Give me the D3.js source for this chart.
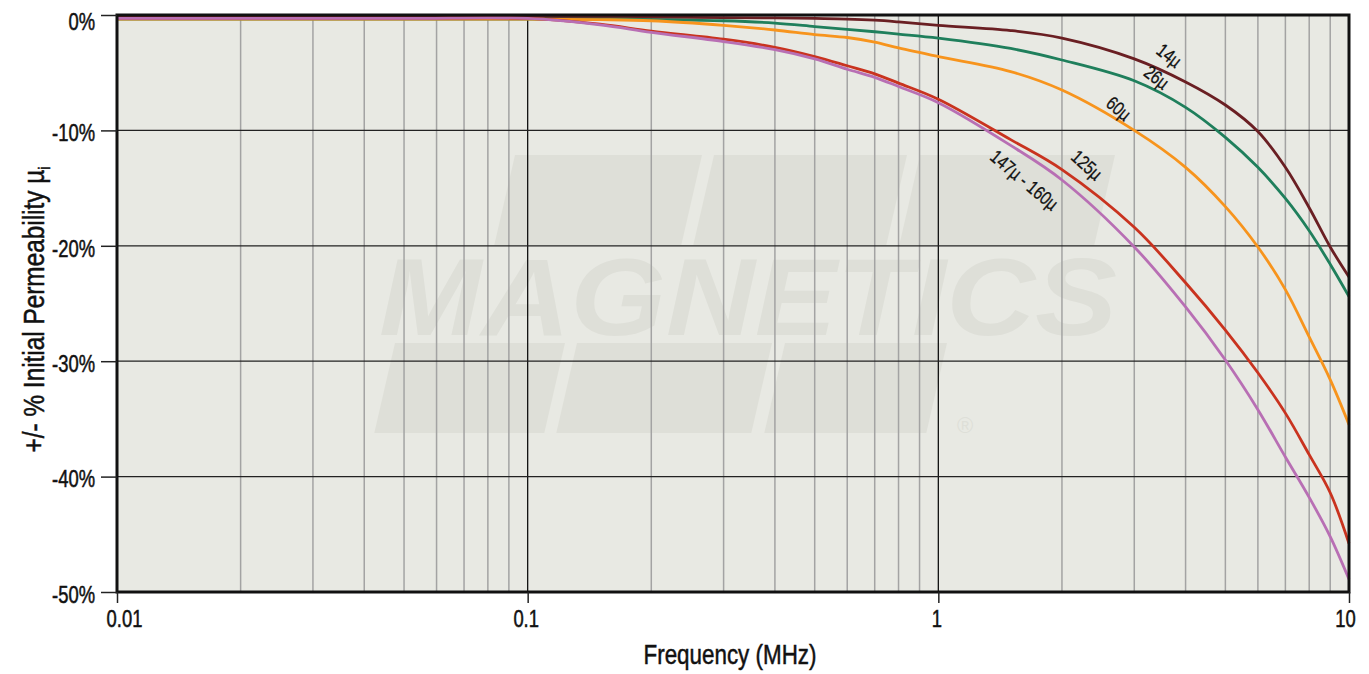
<!DOCTYPE html>
<html>
<head>
<meta charset="utf-8">
<script src="https://cdn.jsdelivr.net/npm/d3@7"></script>
<style>
  html, body { margin: 0; padding: 0; background: #fff; overflow: hidden; }
  svg { display: block; }
  text { font-family: "Liberation Sans", Arial, sans-serif; }
</style>
</head>
<body>
<svg id="chart"></svg>
<script>
// frequencies in MHz
const freqs = [0.01, 0.02, 0.05, 0.1, 0.15, 0.2, 0.3, 0.4, 0.5, 0.6, 0.7, 0.8, 1, 1.5, 2, 3, 4, 5, 6, 7, 8, 9, 10];

// % change of initial permeability, one list per grade
const mu14  = [-0.2, -0.2, -0.2, -0.2, -0.2, -0.2, -0.22, -0.25, -0.3, -0.35, -0.45, -0.6, -0.9, -1.35, -2.0, -3.8, -5.8, -7.8, -10.1, -13.2, -16.7, -20.1, -22.7];
const mu26  = [-0.35, -0.35, -0.35, -0.35, -0.35, -0.4, -0.5, -0.7, -1.0, -1.25, -1.45, -1.65, -2.0, -2.9, -3.9, -5.7, -8.0, -10.6, -13.2, -15.9, -18.7, -21.6, -24.4];
const mu60  = [-0.35, -0.35, -0.35, -0.35, -0.4, -0.5, -0.9, -1.3, -1.7, -1.95, -2.35, -2.85, -3.6, -4.9, -6.5, -10.0, -13.2, -16.6, -20.1, -23.8, -27.9, -31.6, -35.5];
const mu125 = [-0.3, -0.3, -0.3, -0.3, -0.8, -1.4, -2.1, -2.8, -3.6, -4.4, -5.1, -5.9, -7.3, -10.8, -13.4, -18.4, -23.2, -27.3, -31.0, -34.5, -38.1, -41.4, -45.8];
const mu147 = [-0.3, -0.3, -0.3, -0.3, -0.85, -1.5, -2.3, -3.0, -3.8, -4.7, -5.4, -6.2, -7.6, -11.3, -14.3, -20.1, -25.3, -29.9, -34.2, -38.3, -41.8, -45.2, -48.9];

const seriesNames  = ['14µ', '26µ', '60µ', '125µ', '147µ - 160µ'];
const seriesColors = ['#6a1f23', '#1f7f5c', '#f7941d', '#c9331f', '#b86fb4'];
const seriesValues = [mu14, mu26, mu60, mu125, mu147];

const xTicks = [0.01, 0.1, 1, 10];
const xTickLabels = ['0.01', '0.1', '1', '10'];
const yTicks = [0, -10, -20, -30, -40, -50];

const width = 1369, height = 674;
const margin = {top: 15, right: 20, bottom: 82, left: 117};
const innerWidth = width - margin.left - margin.right;
const innerHeight = height - margin.top - margin.bottom;
const squeeze = 0.8; // narrow the glyphs like the original condensed face

const svg = d3.select('#chart').attr('width', width).attr('height', height);
const g = svg.append('g').attr('transform', `translate(${margin.left},${margin.top})`);

const x = d3.scaleLog().domain([0.01, 10]).range([0, innerWidth]);
const y = d3.scaleLinear().domain([-50, 0]).range([innerHeight, 0]);

// squeeze text horizontally via textLength, keeps x/y where they are
function condense(sel) {
  sel.each(function() {
    const w = this.getComputedTextLength();
    d3.select(this).attr('textLength', w * squeeze).attr('lengthAdjust', 'spacingAndGlyphs');
  });
}

// plot background
g.append('rect').attr('width', innerWidth).attr('height', innerHeight).attr('fill', '#e8e9e3');

// faint watermark logo
const wm = g.append('g').attr('fill', '#dedfd8');
const band = (x0, x1, yTop, yBot) => {
  const s = (yBot - yTop) * 0.23;
  return `M${x0},${yTop}L${x1},${yTop}L${x1 - s},${yBot}L${x0 - s},${yBot}Z`;
};
[[398, 585], [597, 790], [803, 998]].forEach(([a, b]) => wm.append('path').attr('d', band(a, b, 140, 230)));
[[278, 448], [460, 655], [668, 830]].forEach(([a, b]) => wm.append('path').attr('d', band(a, b, 328, 418)));
wm.append('text').attr('x', 262).attr('y', 320).attr('font-size', 110).attr('font-weight', 'bold')
  .attr('font-style', 'italic').attr('textLength', 738).attr('lengthAdjust', 'spacingAndGlyphs')
  .text('MAGNETICS');
wm.append('text').attr('x', 848).attr('y', 418).attr('font-size', 22).attr('text-anchor', 'middle').text('®');

// minor vertical grid
const minor = [];
[0.01, 0.1, 1].forEach(d => { for (let k = 2; k <= 9; k++) minor.push(d * k); });
g.selectAll('.minor').data(minor).enter().append('line')
  .attr('x1', d => x(d)).attr('x2', d => x(d)).attr('y1', 0).attr('y2', innerHeight)
  .attr('stroke', '#a3a3a3').attr('stroke-width', 1.5);

// major grid
g.selectAll('.vmajor').data(xTicks).enter().append('line')
  .attr('x1', d => x(d)).attr('x2', d => x(d)).attr('y1', 0).attr('y2', innerHeight)
  .attr('stroke', '#111').attr('stroke-width', 1.3);
g.selectAll('.hmajor').data(yTicks).enter().append('line')
  .attr('x1', 0).attr('x2', innerWidth).attr('y1', d => y(d)).attr('y2', d => y(d))
  .attr('stroke', '#222').attr('stroke-width', 1.3);

// curves
const line = d3.line().x(d => x(d[0])).y(d => y(d[1])).curve(d3.curveCatmullRom.alpha(0.5));
seriesValues.forEach((vals, i) => {
  g.append('path').datum(freqs.map((f, j) => [f, vals[j]]))
    .attr('d', line).attr('fill', 'none')
    .attr('stroke', seriesColors[i]).attr('stroke-width', 2.8);
});

// frame
g.append('rect').attr('width', innerWidth).attr('height', innerHeight)
  .attr('fill', 'none').attr('stroke', '#111').attr('stroke-width', 3);

// axes
const yAxis = d3.axisLeft(y).tickValues(yTicks).tickFormat(d => d + '%').tickSize(16).tickPadding(6);
const xAxis = d3.axisBottom(x).tickValues(xTicks).tickFormat((d, i) => xTickLabels[i]).tickSize(11).tickPadding(8);
const ya = g.append('g').call(yAxis);
const xa = g.append('g').attr('transform', `translate(0,${innerHeight})`).call(xAxis);
[ya, xa].forEach(a => {
  a.select('.domain').remove();
  a.selectAll('line').attr('stroke', '#222').attr('stroke-width', 1.5);
  a.selectAll('text').attr('fill', '#111').attr('font-size', 23)
    .attr('stroke', '#111').attr('stroke-width', 0.5);
});
ya.selectAll('text').attr('dy', d => d === 0 ? '0.62em' : '0.45em');
xa.selectAll('text').attr('dx', d => d === 0.01 ? 7 : (d === 10 ? -4 : -2));
condense(ya.selectAll('text'));
condense(xa.selectAll('text'));

// curve labels
const labelPos = [
  {f: 3.65, v: -3.5, rot: 38},
  {f: 3.4, v: -5.4, rot: 38},
  {f: 2.75, v: -8.1, rot: 40},
  {f: 2.3, v: -13.0, rot: 42},
  {f: 1.62, v: -14.3, rot: 40}
];
seriesNames.forEach((name, i) => {
  const p = labelPos[i];
  const t = g.append('text')
    .attr('transform', `translate(${x(p.f)},${y(p.v)}) rotate(${p.rot})`)
    .attr('text-anchor', 'middle').attr('dy', '0.35em')
    .attr('font-size', 19).attr('fill', '#111').attr('stroke', '#111').attr('stroke-width', 0.3)
    .text(name);
  condense(t);
});

// axis titles
const xt = svg.append('text').attr('x', 730).attr('y', 664)
  .attr('text-anchor', 'middle').attr('font-size', 28).attr('fill', '#111')
  .attr('stroke', '#111').attr('stroke-width', 0.5).text('Frequency (MHz)');
condense(xt);
const yt = svg.append('text')
  .attr('transform', `translate(44,${margin.top + innerHeight / 2 + 6}) rotate(-90) scale(0.84,1)`)
  .attr('text-anchor', 'middle').attr('font-size', 29).attr('fill', '#111')
  .attr('stroke', '#111').attr('stroke-width', 0.5);
yt.append('tspan').text('+/- % Initial Permeability µ');
yt.append('tspan').attr('font-size', 17).attr('dy', 6).text('i');
</script>
</body>
</html>
